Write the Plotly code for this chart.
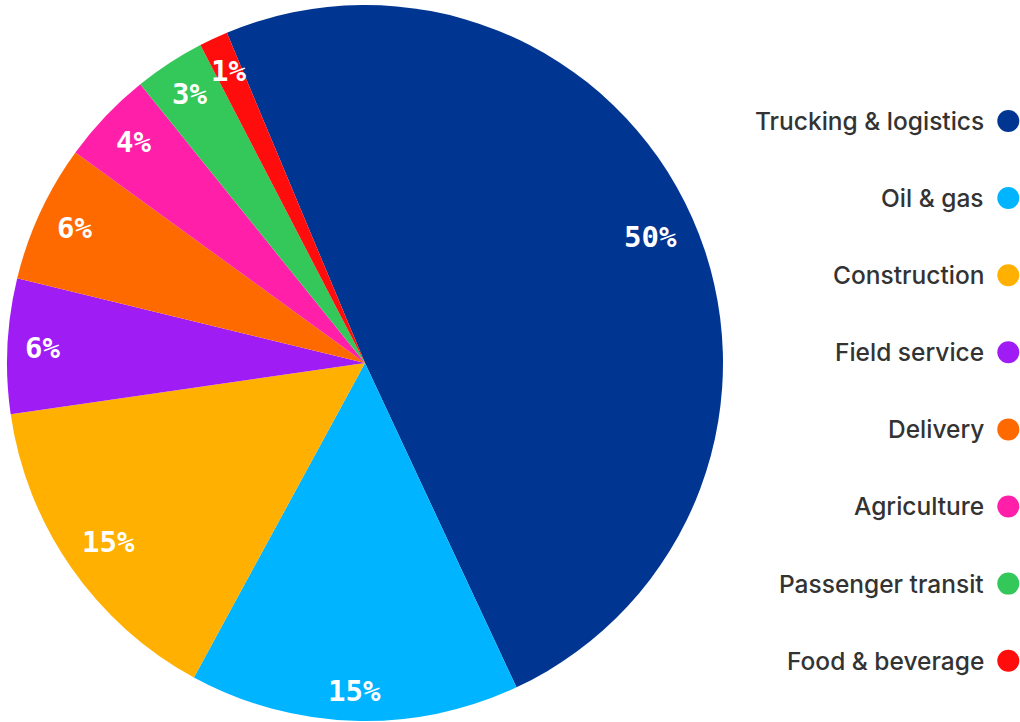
import math
import plotly.graph_objects as go

categories = ["Trucking & logistics", "Oil & gas", "Construction", "Field service",
              "Delivery", "Agriculture", "Passenger transit", "Food & beverage"]
values = [49.4, 14.9, 14.8, 6.1, 6.2, 4.2, 3.2, 1.3]
pct_labels = ["50%", "15%", "15%", "6%", "6%", "4%", "3%", "1%"]
colors = ["#003591", "#00b4ff", "#ffb000", "#a01cf5", "#ff6a00", "#ff1fa8", "#34c759", "#ff0d0d"]

W, H = 1020, 722
ROT = -22.7
CX, CY, R = 365, 363, 358  # pie centre / radius in pixels (layout)

fig = go.Figure()
fig.add_trace(go.Pie(
    labels=categories, values=values, sort=False, direction="clockwise", rotation=ROT,
    marker=dict(colors=colors, line=dict(width=0)),
    textinfo="none",
    domain=dict(x=[(CX - R) / W, (CX + R) / W], y=[1 - (CY + R) / H, 1 - (CY - R) / H]),
    showlegend=False, hoverinfo="label+percent",
))

# slice labels: placed near the outer edge of each slice, box kept inside the arc
FS = 29
total = sum(values)
acc = 0.0
for v, lab in zip(values, pct_labels):
    mid = math.radians(ROT + (acc + v / 2) / total * 360)
    acc += v
    bw = 0.602 * FS * len(lab) / 2
    bh = 0.42 * FS
    ext = bw * abs(math.sin(mid)) + bh * abs(math.cos(mid))
    rr = R - 17 - ext
    px = CX + rr * math.sin(mid)
    py = CY - rr * math.cos(mid)
    fig.add_annotation(x=px / W, y=1 - py / H, xref="paper", yref="paper", text=lab,
                       showarrow=False, xanchor="center", yanchor="middle",
                       font=dict(family="DejaVu Sans Mono", size=FS, color="white", weight="bold"))

# custom legend: text right-aligned, circle marker on the right
idx = list(range(len(categories)))
fig.add_trace(go.Scatter(
    x=[0.959] * len(categories), y=idx, mode="markers",
    marker=dict(size=22, color=colors),
    xaxis="x", yaxis="y", showlegend=False, hoverinfo="skip",
))
for i, c in zip(idx, categories):
    fig.add_annotation(x=0.881, y=i, xref="x", yref="y", text=c, showarrow=False,
                       xanchor="right", yanchor="middle",
                       font=dict(family="Inter", size=24.5, color="#333333", weight=500))

fig.update_layout(
    width=W, height=H, margin=dict(l=0, r=0, t=0, b=0),
    paper_bgcolor="white", plot_bgcolor="rgba(0,0,0,0)",
    xaxis=dict(domain=[0.72, 1.0], range=[0, 1], visible=False, fixedrange=True),
    yaxis=dict(domain=[0, 1], range=[7.795, -1.569], visible=False, fixedrange=True),
)
fig.write_html("out.html", config={"displayModeBar": False},
               post_script="document.body.style.margin='0';")
